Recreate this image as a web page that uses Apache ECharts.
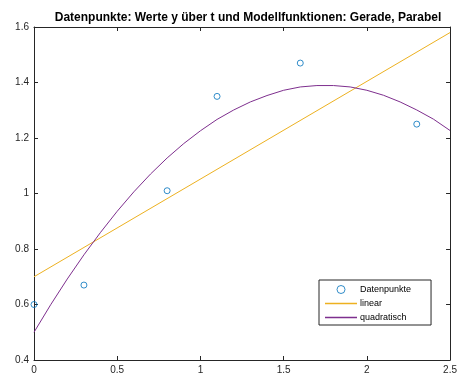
<!DOCTYPE html>
<html>
<head>
<meta charset="utf-8">
<script src="https://cdn.jsdelivr.net/npm/echarts@6/dist/echarts.min.js"></script>
<style>
  html, body { margin: 0; padding: 0; background: #fff; }
  #chart { width: 460px; height: 377px; }
</style>
</head>
<body>
<div id="chart"></div>
<script>
// Measured data points (t, y)
const tData = [0, 0.3, 0.8, 1.1, 1.6, 2.3];
const yData = [0.60, 0.67, 1.01, 1.35, 1.47, 1.25];

// Straight-line model, end points
const tLinear = [0, 2.5];
const yLinear = [0.70, 1.58];

// Parabola model, sampled along t
const tQuad = [0, 0.1, 0.2, 0.3, 0.4, 0.5, 0.6, 0.7, 0.8, 0.9, 1.0, 1.1, 1.2,
               1.3, 1.4, 1.5, 1.6, 1.7, 1.8, 1.9, 2.0, 2.1, 2.2, 2.3, 2.4, 2.5];
const yQuad = [0.500, 0.599, 0.692, 0.779, 0.860, 0.936, 1.006, 1.070, 1.128, 1.180,
               1.226, 1.267, 1.301, 1.330, 1.353, 1.372, 1.384, 1.389, 1.389, 1.384,
               1.372, 1.354, 1.330, 1.301, 1.268, 1.227];

const xTicks = { min: 0, max: 2.5, interval: 0.5 };
const yTicks = { min: 0.4, max: 1.6, interval: 0.2 };

const title = 'Datenpunkte: Werte y über t und Modellfunktionen: Gerade, Parabel';
const names = ['Datenpunkte', 'linear', 'quadratisch'];

const zip = (a, b) => a.map((v, i) => [v, b[i]]);

const axisColor = '#262626';
const font = 'Liberation Sans, Arial, Helvetica, sans-serif';

// thin horizontal bar inside a 32x8 box (corner specks keep the box size)
const lineIcon = 'path://M0,0L0.01,0L0,0.01Z M0,3.2L32,3.2L32,4.8L0,4.8Z M31.99,8L32,8L32,7.99Z';

function axisBase(extra) {
  return Object.assign({
    type: 'value',
    axisLine: { show: true, onZero: false, lineStyle: { color: axisColor, width: 1 } },
    axisTick: { show: true, inside: true, length: 4, lineStyle: { color: axisColor, width: 1 } },
    splitLine: { show: false },
    axisLabel: { color: axisColor, fontSize: 10, fontFamily: font }
  }, extra);
}

const chart = echarts.init(document.getElementById('chart'), null, { renderer: 'canvas' });
chart.setOption({
  animation: false,
  backgroundColor: '#fff',
  title: {
    text: title,
    left: 243, top: 7, textAlign: 'center',
    textStyle: { fontSize: 12, fontWeight: 'bold', color: '#000', fontFamily: font }
  },
  grid: { left: 34, right: 7, top: 27, bottom: 17, containLabel: false },
  xAxis: [
    axisBase(Object.assign({ position: 'bottom', axisLabel: { color: axisColor, fontSize: 10, fontFamily: font, margin: 5 } }, xTicks)),
    axisBase(Object.assign({ position: 'top', axisLabel: { show: false } }, xTicks))
  ],
  yAxis: [
    axisBase(Object.assign({ position: 'left', axisLabel: { color: axisColor, fontSize: 10, fontFamily: font, margin: 5 } }, yTicks)),
    axisBase(Object.assign({ position: 'right', axisLabel: { show: false } }, yTicks))
  ],
  legend: {
    orient: 'vertical',
    left: 319, top: 280,
    width: 100,
    padding: [5, 20, 3, 6],
    itemWidth: 32, itemHeight: 8, itemGap: 5,
    backgroundColor: '#fff',
    borderColor: axisColor, borderWidth: 1, borderRadius: 0,
    textStyle: { fontSize: 9, color: '#000', fontFamily: font, padding: [0, 0, 0, -2] },
    data: [
      { name: names[0], icon: 'circle', itemStyle: { color: 'rgba(0,0,0,0)', borderColor: '#0072BD', borderWidth: 1 } },
      { name: names[1], icon: lineIcon, itemStyle: { color: '#EDB120', borderWidth: 0 } },
      { name: names[2], icon: lineIcon, itemStyle: { color: '#7E2F8E', borderWidth: 0 } }
    ]
  },
  series: [
    {
      name: names[1], type: 'line',
      data: zip(tLinear, yLinear),
      showSymbol: false, symbol: 'none',
      lineStyle: { color: '#EDB120', width: 1 },
      itemStyle: { color: '#EDB120' },
      z: 2
    },
    {
      name: names[2], type: 'line',
      data: zip(tQuad, yQuad),
      smooth: false,
      showSymbol: false, symbol: 'none',
      lineStyle: { color: '#7E2F8E', width: 1 },
      itemStyle: { color: '#7E2F8E' },
      z: 3
    },
    {
      name: names[0], type: 'scatter',
      data: zip(tData, yData),
      symbol: 'circle', symbolSize: 6,
      clip: false,
      itemStyle: { color: 'rgba(0,0,0,0)', borderColor: '#0072BD', borderWidth: 1 },
      z: 4
    }
  ]
});
</script>
</body>
</html>
